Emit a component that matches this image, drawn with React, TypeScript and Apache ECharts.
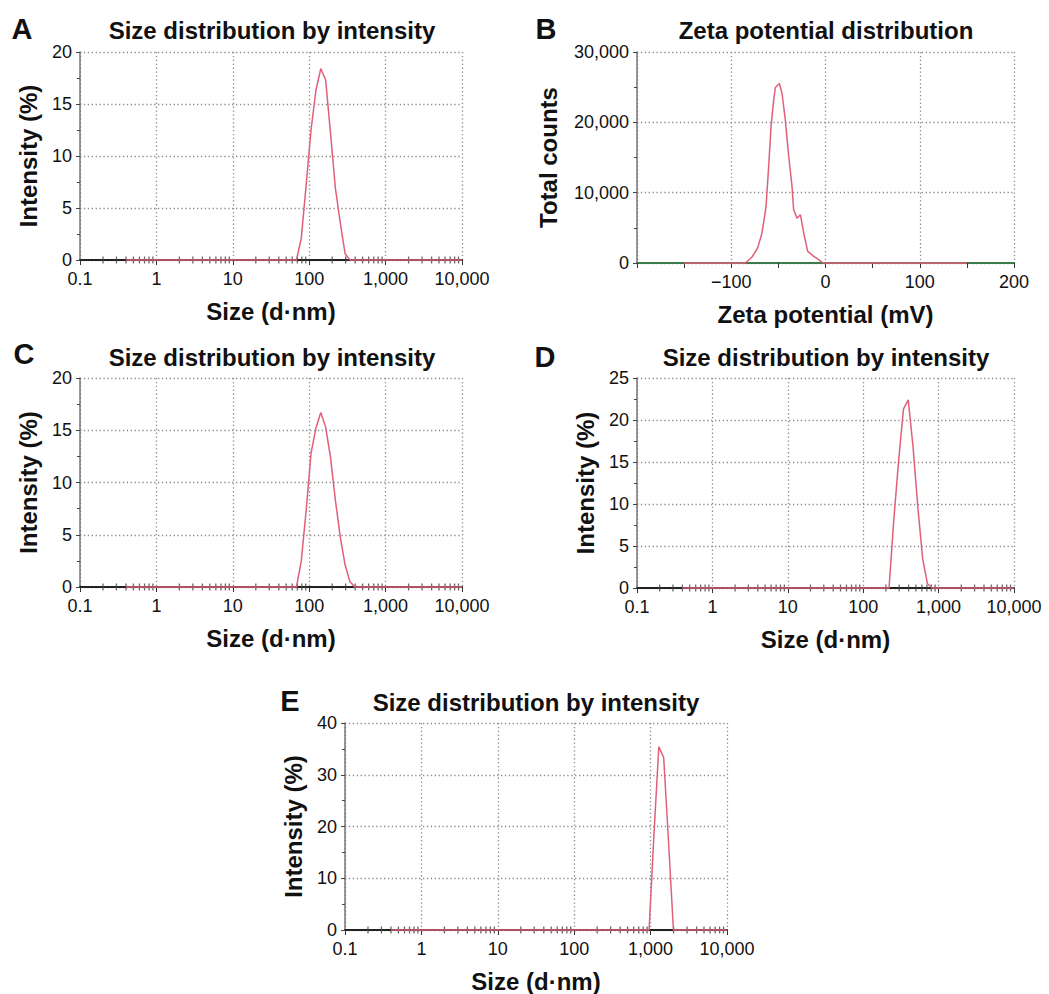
import React, { useEffect, useRef } from 'react';
import * as echarts from 'echarts';

const FONT = '"Liberation Sans", Arial, Helvetica, sans-serif';

// ---------- data ----------
const sizeA = [0.4, 68.1, 78.8, 91.2, 105.7, 122.4, 141.8, 164.2, 190.1, 220.2, 255, 295.3, 342, 10000];
const intensityA = [0, 0, 2.1, 7.2, 12.5, 16.3, 18.4, 17.3, 12.2, 6.9, 3.6, 0.6, 0, 0];

const zetaMv = [-150, -85, -78, -72, -67.4, -63.1, -60.3, -57.8, -55, -53.2, -48.9, -46.1, -42.6, -39, -35.5, -33.8, -30.2, -26.6, -23.1, -18.9, -12.4, -7.1, -3.5, -1, 150];
const zetaCounts = [0, 0, 850, 2130, 4250, 8030, 13700, 19370, 23150, 24950, 25520, 24100, 20320, 15110, 10860, 7560, 6380, 6850, 4250, 1650, 940, 470, 80, 0, 0];

const sizeC = [0.4, 68.1, 78.8, 91.2, 105.7, 122.4, 141.8, 164.2, 190.1, 220.2, 255, 295.3, 342, 395.6, 10000];
const intensityC = [0, 0, 2.5, 7.3, 12.8, 15.2, 16.7, 15.3, 12.4, 8.3, 4.8, 2.1, 0.5, 0, 0];

const sizeD = [0.4, 220.2, 255, 295.3, 342, 395.6, 458.2, 530.7, 614.6, 711.8, 824.5, 10000];
const intensityD = [0, 0, 8.2, 15.2, 21.3, 22.4, 16.8, 9.6, 3.5, 0.5, 0, 0];

const sizeE = [0.4, 955.4, 1106, 1281, 1484, 1718, 1990, 10000];
const intensityE = [0, 0, 18.4, 35.4, 33.3, 17.0, 0, 0];

// tick labels
const sizeTickLabels: Record<string, string> = { '-1': '0.1', '0': '1', '1': '10', '2': '100', '3': '1,000', '4': '10,000' };
const zetaTickLabels: Record<string, string> = { '-200': '', '-100': '\u2212100', '0': '0', '100': '100', '200': '200' };
const decadeStarts = [0.1, 1, 10, 100, 1000];
const minorMultipliers = [2, 3, 4, 5, 6, 7, 8, 9];

const titles = ['Size distribution by intensity', 'Zeta potential distribution', 'Size distribution by intensity', 'Size distribution by intensity', 'Size distribution by intensity'];
const letters = ['A', 'B', 'C', 'D', 'E'];

// ---------- layout ----------
const grids = [
  { left: 80, top: 52, width: 382, height: 208 },
  { left: 637, top: 52, width: 377, height: 211 },
  { left: 80, top: 378, width: 382, height: 209 },
  { left: 637, top: 378, width: 377, height: 210 },
  { left: 345, top: 723, width: 382, height: 209 },
];
const titlePos = [
  [272, 30], [826, 30], [272, 357], [826, 357], [536, 702],
];
const letterPos = [
  [22, 29], [546, 29], [24, 354], [545, 357], [290, 701],
];

const LINE_COLOR = '#e0607a';
const GRID_LINE = { color: '#8a8a8a', width: 1.3, type: [1.3, 2.6] as any };

function App() {
  const ref = useRef<HTMLDivElement>(null);
  useEffect(() => {
    if (!ref.current) return;
    const chart = echarts.init(ref.current, undefined, { renderer: 'svg' });

    const minorTickData: number[][] = [];
    decadeStarts.forEach((d) => minorMultipliers.forEach((m) => minorTickData.push([d * m, 0])));

    const labelStyle = { fontSize: 18, color: '#111', fontFamily: FONT };
    const nameStyle = { fontSize: 24, fontWeight: 'bold' as const, color: '#111', fontFamily: FONT };

    const sizeX = (gi: number) => ({
      type: 'log', logBase: 10, gridIndex: gi, min: 0.1, max: 10000, splitNumber: 5,
      name: 'Size (d\u00b7nm)', nameLocation: 'middle', nameGap: 39, nameTextStyle: nameStyle,
      axisLine: { show: true, onZero: false, lineStyle: { color: '#222', width: 2 } },
      axisTick: { show: true, length: 5, lineStyle: { color: '#333' } },
      axisLabel: {
        ...labelStyle, margin: 10,
        formatter: (v: number) => sizeTickLabels[String(Math.round(Math.log10(v)))] ?? '',
      },
      splitLine: { show: true, lineStyle: GRID_LINE },
    });
    const yAx = (gi: number, max: number, interval: number, name: string, nameGap: number, fmt?: (v: number) => string) => ({
      type: 'value', gridIndex: gi, min: 0, max, interval,
      name, nameLocation: 'middle', nameGap, nameTextStyle: nameStyle,
      axisLine: { show: true, onZero: false, lineStyle: { color: '#777', width: 1.5 } },
      axisTick: { show: true, length: 4, lineStyle: { color: '#444' } },
      minorTick: { show: true, splitNumber: 2, length: 3, lineStyle: { color: '#444' } },
      axisLabel: { ...labelStyle, margin: 8, formatter: fmt },
      splitLine: { show: true, lineStyle: GRID_LINE },
    });

    const zetaX = {
      type: 'value', gridIndex: 1, min: -200, max: 200, interval: 100,
      name: 'Zeta potential (mV)', nameLocation: 'middle', nameGap: 39, nameTextStyle: nameStyle,
      axisLine: { show: true, onZero: false, lineStyle: { color: '#3d7a4a', width: 2 } },
      axisTick: { show: true, length: 5, lineStyle: { color: '#333' } },
      minorTick: { show: true, splitNumber: 2, length: 5, lineStyle: { color: '#333' } },
      axisLabel: { ...labelStyle, margin: 10, formatter: (v: number) => zetaTickLabels[String(Math.round(v))] ?? '' },
      splitLine: { show: true, lineStyle: GRID_LINE },
    };

    const lineSeries = (xi: number, xs: number[], ys: number[]) => ({
      type: 'line', xAxisIndex: xi, yAxisIndex: xi, data: xs.map((x, i) => [x, ys[i]]),
      showSymbol: false, symbol: 'none', clip: false,
      lineStyle: { color: LINE_COLOR, width: 1.5 }, z: 5, silent: true,
    });
    const minorTicks = (xi: number) => ({
      type: 'scatter', xAxisIndex: xi, yAxisIndex: xi, data: minorTickData,
      symbol: 'rect', symbolSize: [1.3, 7], itemStyle: { color: '#444' }, z: 3, silent: true,
    });

    const commaFmt = (v: number) => v.toLocaleString('en-US');

    const graphic: any[] = [];
    titles.forEach((t, i) => {
      graphic.push({
        type: 'text', x: titlePos[i][0], y: titlePos[i][1],
        style: { text: t, fontSize: 24, fontWeight: 'bold', fontFamily: FONT, fill: '#111', align: 'center', verticalAlign: 'middle' },
      });
      graphic.push({
        type: 'text', x: letterPos[i][0], y: letterPos[i][1],
        style: { text: letters[i], fontSize: 29, fontWeight: 'bold', fontFamily: FONT, fill: '#111', align: 'center', verticalAlign: 'middle' },
      });
    });

    chart.setOption({
      animation: false,
      backgroundColor: '#ffffff',
      grid: grids.map((g) => ({ ...g, containLabel: false })),
      xAxis: [sizeX(0), zetaX, sizeX(2), sizeX(3), sizeX(4)],
      yAxis: [
        yAx(0, 20, 5, 'Intensity (%)', 40),
        yAx(1, 30000, 10000, 'Total counts', 77, commaFmt),
        yAx(2, 20, 5, 'Intensity (%)', 40),
        yAx(3, 25, 5, 'Intensity (%)', 40),
        yAx(4, 40, 10, 'Intensity (%)', 40),
      ],
      series: [
        minorTicks(0), minorTicks(2), minorTicks(3), minorTicks(4),
        lineSeries(0, sizeA, intensityA),
        lineSeries(1, zetaMv, zetaCounts),
        lineSeries(2, sizeC, intensityC),
        lineSeries(3, sizeD, intensityD),
        lineSeries(4, sizeE, intensityE),
      ],
      graphic,
    } as any);

    return () => chart.dispose();
  }, []);

  return <div ref={ref} style={{ position: 'fixed', left: 0, top: 0, width: 1049, height: 994, background: '#fff' }} />;
}

export default App;
